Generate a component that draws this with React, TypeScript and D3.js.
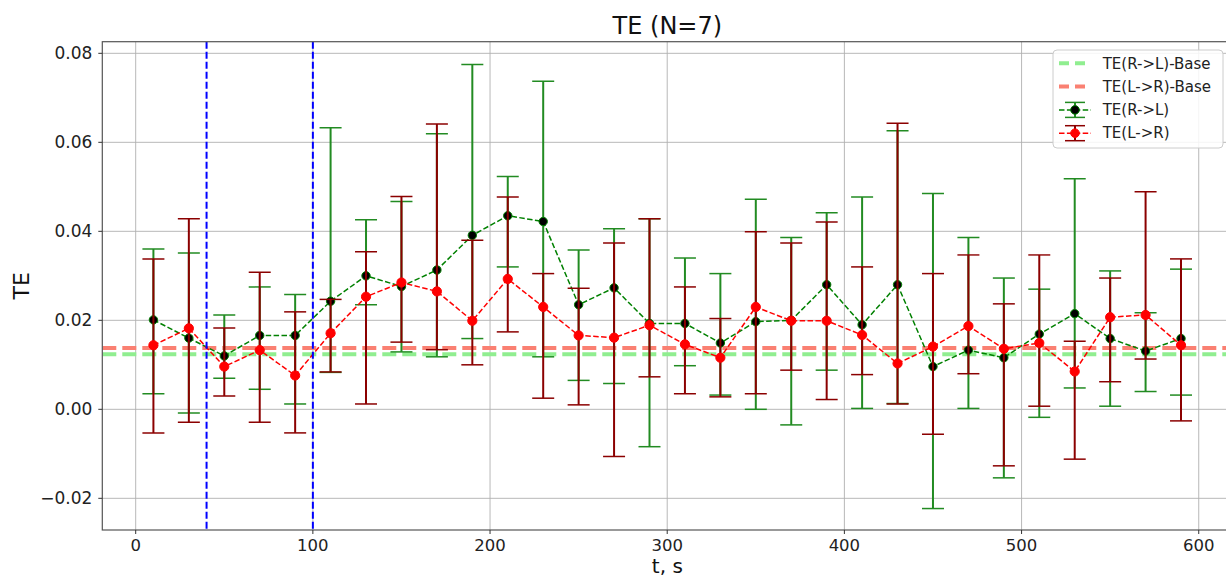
import React, { useEffect, useRef } from 'react';
import * as d3 from 'd3';

// time points, s
const times = [10, 30, 50, 70, 90, 110, 130, 150, 170, 190, 210, 230, 250, 270, 290,
  310, 330, 350, 370, 390, 410, 430, 450, 470, 490, 510, 530, 550, 570, 590];

// TE(R->L)
const rlMean = [0.0201, 0.0160, 0.0120, 0.0166, 0.0166, 0.0243, 0.0300, 0.0276, 0.0313, 0.0391,
  0.0435, 0.0422, 0.0235, 0.0273, 0.0193, 0.0193, 0.0149, 0.0197, 0.0200, 0.0280,
  0.0190, 0.0280, 0.0096, 0.0133, 0.0116, 0.0169, 0.0215, 0.0159, 0.0131, 0.0159];
const rlLow = [0.0035, -0.0008, 0.0070, 0.0045, 0.0012, 0.0083, 0.0235, 0.0129, 0.0118, 0.0159,
  0.0320, 0.0118, 0.0065, 0.0058, -0.0084, 0.0098, 0.0032, 0.0000, -0.0035, 0.0088,
  0.0002, 0.0013, -0.0223, 0.0002, -0.0154, -0.0018, 0.0048, 0.0007, 0.0040, 0.0032];
const rlHigh = [0.0360, 0.0351, 0.0212, 0.0275, 0.0258, 0.0633, 0.0426, 0.0467, 0.0619, 0.0775,
  0.0523, 0.0737, 0.0358, 0.0406, 0.0428, 0.0340, 0.0305, 0.0472, 0.0386, 0.0442,
  0.0477, 0.0626, 0.0485, 0.0386, 0.0295, 0.0270, 0.0518, 0.0311, 0.0217, 0.0315];

// TE(L->R)
const lrMean = [0.0144, 0.0182, 0.0096, 0.0133, 0.0076, 0.0171, 0.0253, 0.0285, 0.0265, 0.0199,
  0.0293, 0.0230, 0.0166, 0.0161, 0.0189, 0.0146, 0.0116, 0.0230, 0.0199, 0.0199,
  0.0167, 0.0103, 0.0141, 0.0187, 0.0136, 0.0149, 0.0085, 0.0207, 0.0212, 0.0144];
const lrLow = [-0.0053, -0.0029, 0.0030, -0.0029, -0.0053, 0.0084, 0.0012, 0.0151, 0.0134, 0.0100,
  0.0174, 0.0025, 0.0010, -0.0106, 0.0073, 0.0035, 0.0028, 0.0035, 0.0088, 0.0022,
  0.0078, 0.0012, -0.0056, 0.0080, -0.0127, 0.0007, -0.0112, 0.0062, 0.0113, -0.0026];
const lrHigh = [0.0338, 0.0428, 0.0183, 0.0308, 0.0219, 0.0247, 0.0354, 0.0478, 0.0641, 0.0380,
  0.0477, 0.0305, 0.0272, 0.0374, 0.0428, 0.0275, 0.0204, 0.0399, 0.0374, 0.0421,
  0.0320, 0.0643, 0.0305, 0.0347, 0.0237, 0.0347, 0.0153, 0.0295, 0.0489, 0.0338];

const rlBase = 0.0124;
const lrBase = 0.0138;
const markers = [40, 100];

const xTicks = [0, 100, 200, 300, 400, 500, 600];
const yTicks = [-0.02, 0, 0.02, 0.04, 0.06, 0.08];

const FONT = 'DejaVu Sans, sans-serif';

const App = () => {
  const ref = useRef<SVGSVGElement>(null);

  useEffect(() => {
    const svg = d3.select(ref.current);
    svg.selectAll('*').remove();

    const left = 102.3, right = 1232.4, top = 41.7, bottom = 530;
    const x = d3.scaleLinear().domain([-18.85, 619]).range([left, right]);
    const y = d3.scaleLinear().domain([-0.02712, 0.08261]).range([bottom, top]);

    const clip = svg.append('defs').append('clipPath').attr('id', 'plot');
    clip.append('rect').attr('x', left).attr('y', top).attr('width', right - left).attr('height', bottom - top);

    // grid
    const grid = svg.append('g');
    xTicks.forEach(t => {
      grid.append('line').attr('x1', x(t)).attr('x2', x(t)).attr('y1', top).attr('y2', bottom)
        .attr('stroke', '#b0b0b0').attr('stroke-width', 0.9);
    });
    yTicks.forEach(t => {
      grid.append('line').attr('x1', left).attr('x2', right).attr('y1', y(t)).attr('y2', y(t))
        .attr('stroke', '#b0b0b0').attr('stroke-width', 0.9);
    });

    const plot = svg.append('g').attr('clip-path', 'url(#plot)');

    // base lines
    plot.append('line').attr('x1', left).attr('x2', right).attr('y1', y(rlBase)).attr('y2', y(rlBase))
      .attr('stroke', '#90ee90').attr('stroke-width', 4).attr('stroke-dasharray', '14,6');
    plot.append('line').attr('x1', left).attr('x2', right).attr('y1', y(lrBase)).attr('y2', y(lrBase))
      .attr('stroke', '#fa8072').attr('stroke-width', 4).attr('stroke-dasharray', '14,6');

    const drawSeries = (mean: number[], low: number[], high: number[], barColor: string,
      lineColor: string, face: string, r: number) => {
      const g = plot.append('g');
      times.forEach((t, i) => {
        const cx = x(t);
        g.append('line').attr('x1', cx).attr('x2', cx).attr('y1', y(low[i])).attr('y2', y(high[i]))
          .attr('stroke', barColor).attr('stroke-width', 2);
        [low[i], high[i]].forEach(v => {
          g.append('line').attr('x1', cx - 11).attr('x2', cx + 11).attr('y1', y(v)).attr('y2', y(v))
            .attr('stroke', barColor).attr('stroke-width', 1.5);
        });
      });
      const line = d3.line<number>().x((d, i) => x(times[i])).y(d => y(d));
      g.append('path').attr('d', line(mean)).attr('fill', 'none').attr('stroke', lineColor)
        .attr('stroke-width', 1.5).attr('stroke-dasharray', '5.5,2.4');
      times.forEach((t, i) => {
        g.append('circle').attr('cx', x(t)).attr('cy', y(mean[i])).attr('r', r)
          .attr('fill', face).attr('stroke', lineColor).attr('stroke-width', 1);
      });
    };

    drawSeries(rlMean, rlLow, rlHigh, '#228b22', '#008000', 'black', 4.2);
    drawSeries(lrMean, lrLow, lrHigh, '#8b0000', '#ff0000', '#ff0000', 4.6);

    // vertical markers
    markers.forEach(m => {
      plot.append('line').attr('x1', x(m)).attr('x2', x(m)).attr('y1', top).attr('y2', bottom)
        .attr('stroke', '#0000ff').attr('stroke-width', 2).attr('stroke-dasharray', '7,3');
    });

    // spines
    svg.append('rect').attr('x', left).attr('y', top).attr('width', right - left).attr('height', bottom - top)
      .attr('fill', 'none').attr('stroke', '#555').attr('stroke-width', 1.2);

    // axes ticks
    const xAxis = svg.append('g');
    xTicks.forEach(t => {
      xAxis.append('line').attr('x1', x(t)).attr('x2', x(t)).attr('y1', bottom).attr('y2', bottom + 4)
        .attr('stroke', '#333');
      xAxis.append('text').attr('x', x(t)).attr('y', bottom + 21).attr('text-anchor', 'middle')
        .attr('font-family', FONT).attr('font-size', 16.5).attr('fill', '#222').text(String(t));
    });
    const fmt = d3.format('.2f');
    const yAxis = svg.append('g');
    yTicks.forEach(t => {
      yAxis.append('line').attr('x1', left - 4).attr('x2', left).attr('y1', y(t)).attr('y2', y(t))
        .attr('stroke', '#333');
      yAxis.append('text').attr('x', left - 10).attr('y', y(t)).attr('dy', '0.35em').attr('text-anchor', 'end')
        .attr('font-family', FONT).attr('font-size', 17).attr('fill', '#222').text(fmt(t).replace('-', '\u2212'));
    });

    // labels
    svg.append('text').attr('x', (left + right) / 2).attr('y', 34).attr('text-anchor', 'middle')
      .attr('font-family', FONT).attr('font-size', 24).attr('fill', '#111').text('TE (N=7)');
    svg.append('text').attr('x', (left + right) / 2).attr('y', 573).attr('text-anchor', 'middle')
      .attr('font-family', FONT).attr('font-size', 20).attr('fill', '#111').text('t, s');
    svg.append('text').attr('transform', `translate(29,${(top + bottom) / 2}) rotate(-90)`)
      .attr('text-anchor', 'middle').attr('font-family', FONT).attr('font-size', 22).attr('fill', '#111').text('TE');

    // legend
    const lg = svg.append('g');
    lg.append('rect').attr('x', 1053).attr('y', 50).attr('width', 170).attr('height', 98).attr('rx', 4)
      .attr('fill', 'white').attr('fill-opacity', 0.85).attr('stroke', '#cccccc');
    const items = [
      { label: 'TE(R->L)-Base', kind: 'base', color: '#90ee90' },
      { label: 'TE(L->R)-Base', kind: 'base', color: '#fa8072' },
      { label: 'TE(R->L)', kind: 'err', color: '#008000', bar: '#228b22', face: 'black' },
      { label: 'TE(L->R)', kind: 'err', color: '#ff0000', bar: '#8b0000', face: '#ff0000' },
    ];
    items.forEach((it, i) => {
      const cy = 63.3 + i * 23.3;
      if (it.kind === 'base') {
        lg.append('line').attr('x1', 1059).attr('x2', 1091).attr('y1', cy).attr('y2', cy)
          .attr('stroke', it.color).attr('stroke-width', 4).attr('stroke-dasharray', '10,6');
      } else {
        lg.append('line').attr('x1', 1059).attr('x2', 1091).attr('y1', cy).attr('y2', cy)
          .attr('stroke', it.color).attr('stroke-width', 1.5).attr('stroke-dasharray', '5.5,2.4');
        lg.append('line').attr('x1', 1075).attr('x2', 1075).attr('y1', cy - 7.5).attr('y2', cy + 7.5)
          .attr('stroke', it.bar!).attr('stroke-width', 2);
        [cy - 7.5, cy + 7.5].forEach(v => {
          lg.append('line').attr('x1', 1065).attr('x2', 1085).attr('y1', v).attr('y2', v)
            .attr('stroke', it.bar!).attr('stroke-width', 1.5);
        });
        lg.append('circle').attr('cx', 1075).attr('cy', cy).attr('r', 4.3)
          .attr('fill', it.face!).attr('stroke', it.color).attr('stroke-width', 1);
      }
      lg.append('text').attr('x', 1102.7).attr('y', cy).attr('dy', '0.35em')
        .attr('font-family', FONT).attr('font-size', 15).attr('fill', '#222').text(it.label);
    });
  }, []);

  return (
    <svg ref={ref} width={1226} height={578}
      style={{ position: 'absolute', left: 0, top: 0, background: 'white' }}></svg>
  );
};

export default App;
